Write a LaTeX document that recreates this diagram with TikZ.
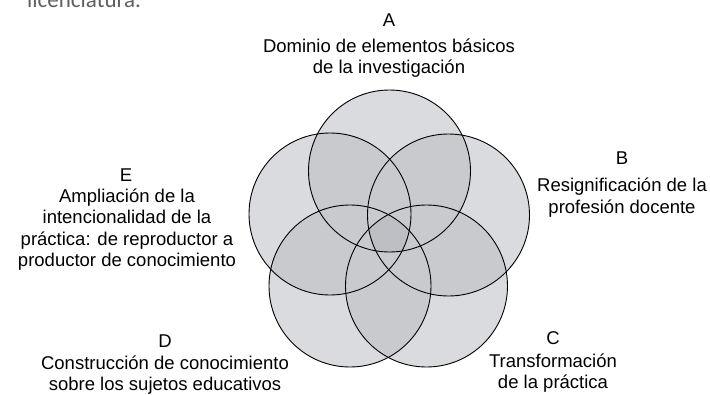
\documentclass[tikz,border=0pt]{standalone}
\usepackage{fontspec}
\setmainfont{Liberation Sans}
\newfontfamily\carlitofont{Carlito}
\usetikzlibrary{positioning}
\definecolor{venna}{RGB}{218,219,222}
\definecolor{vennb}{RGB}{201,202,206}
\definecolor{vennc}{RGB}{190,191,196}
\definecolor{txtgray}{RGB}{95,95,95}
\tikzset{
	%circles and labels
	circ/.style = {draw=black, line width=0.9pt},
	letra/.style = {font=\fontsize{18.5}{21.5}\selectfont, inner sep=0pt},
	desc/.style = {font=\fontsize{18.5}{21.5}\selectfont,
                           align=center, inner sep=0pt}
}
\begin{document}
\begin{tikzpicture}[x=1pt, y=-1pt]
	\useasboundingbox (0,0) rectangle (710,394);
	\node[anchor=base west, inner sep=0pt, text=txtgray,
	      font=\carlitofont\fontsize{23}{26}\selectfont] (lic) at (27,7) {licenciatura.};
	%centres
	\coordinate (a) at (389.5,171);
	\coordinate (b) at (448.5,215);
	\coordinate (c) at (426.5,286);
	\coordinate (d) at (350,286);
	\coordinate (e) at (330,214);
	%circles
	\foreach \i in {a,b,c,d,e}
		\fill[venna] (\i) circle (81pt);
	\foreach \i/\j in {a/b,a/c,a/d,a/e,b/c,b/d,b/e,c/d,c/e,d/e}{
		\begin{scope}
			\clip (\i) circle (81pt);
			\fill[vennb] (\j) circle (81pt);
		\end{scope}
	}
	\begin{scope}
		\clip (a) circle (81pt);
		\clip (b) circle (81pt);
		\clip (c) circle (81pt);
		\clip (d) circle (81pt);
		\fill[vennc] (e) circle (81pt);
	\end{scope}
	\foreach \i in {a,b,c,d,e}
		\draw[circ] (\i) circle (81pt);
	%labels
	\node[letra] (A)  at (389,20)    {A};
	\node[desc]  (tA) at (389,58)    {Dominio de elementos básicos\\de la investigación};
	\node[letra] (B)  at (622,158)   {B};
	\node[desc]  (tB) at (622,197.5) {Resignificación de la\\profesión docente};
	\node[letra] (C)  at (553,338)   {C};
	\node[desc]  (tC) at (553,373)   {Transformación\\de la práctica};
	\node[letra] (D)  at (165,341)   {D};
	\node[desc]  (tD) at (165,375)   {Construcción de conocimiento\\sobre los sujetos educativos};
	\node[letra] (E)  at (126,175)   {E};
	\node[desc]  (tE) at (127,229.5) {Ampliación de la\\intencionalidad de la\\práctica: de reproductor a\\productor de conocimiento};
\end{tikzpicture}
\end{document}
